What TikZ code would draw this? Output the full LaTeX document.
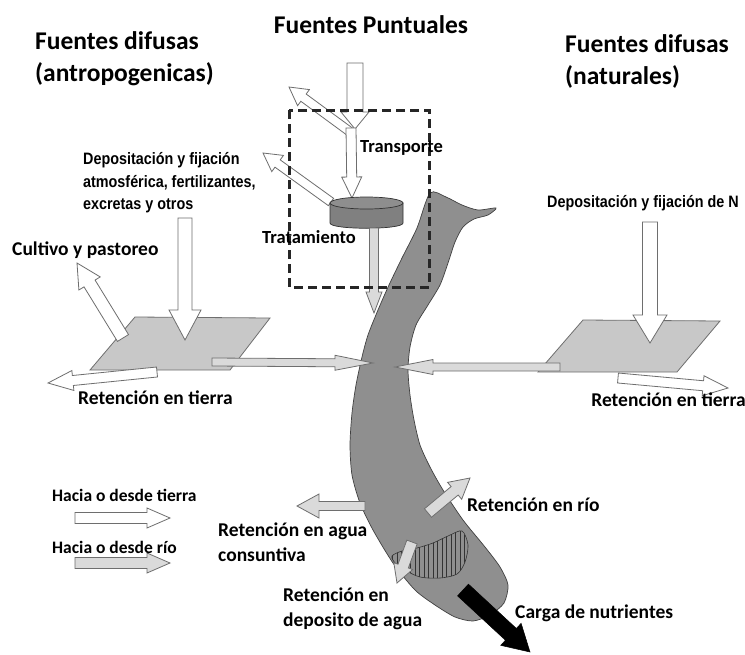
\documentclass[tikz,border=0pt]{standalone}
\usepackage{fontspec}
\setmainfont{Carlito}
\newfontfamily\narrowfont{Liberation Sans}[FakeStretch=0.87]
\usetikzlibrary{calc}
\definecolor{rivergray}{HTML}{8F8F8F}
\definecolor{planegray}{HTML}{C8C8C8}
\definecolor{lightarrow}{HTML}{DADADA}
\definecolor{edgegray}{HTML}{6E6E6E}
\definecolor{cylbody}{HTML}{808080}
\definecolor{cyltop}{HTML}{8E8E8E}
\newcommand\barrow[6][]{%
  \draw[#1] let \p1=(#2), \p2=(#3), \p3=($(#3)!#6pt!(#2)$) in
   ($(\p1)!#4pt!90:(\p2)$) -- ($(\p3)!#4pt!90:(\p2)$) -- ($(\p3)!#5pt!90:(\p2)$)
   -- (\p2) -- ($(\p3)!#5pt!-90:(\p2)$) -- ($(\p3)!#4pt!-90:(\p2)$)
   -- ($(\p1)!#4pt!-90:(\p2)$) -- cycle;}
\tikzset{
  whitearrow/.style={fill=white,draw=edgegray,line width=0.8pt,line join=miter},
  grayarrow/.style={fill=lightarrow,draw=edgegray,line width=0.8pt,line join=miter},
  blackarrow/.style={fill=black,draw=black,line width=0.5pt},
  title/.style={font=\fontsize{25.5}{32}\selectfont\bfseries,inner sep=0pt,align=left},
  lab/.style={font=\fontsize{19.5}{25}\selectfont\bfseries,inner sep=0pt,align=left},
  narrowlab/.style={font=\narrowfont\fontsize{16.5}{22.5}\selectfont\bfseries,inner sep=0pt,align=left},
  plane/.style={fill=planegray,draw=edgegray,line width=0.8pt},
}
\begin{document}
\begin{tikzpicture}[x=1pt,y=-1pt]
\useasboundingbox (0,0) rectangle (745,654);
\fill[white] (0,0) rectangle (745,654);

% titles
\node[title,anchor=center] (fp) at (371,25) {Fuentes Puntuales};
\node[title,anchor=west] (fda) at (35,59) {Fuentes difusas\\(antropogenicas)};
\node[title,anchor=west] (fdn) at (565,61) {Fuentes difusas\\(naturales)};

% planes
\draw[plane] (135,317) -- (270,318) -- (230,370) -- (90,370) -- cycle;
\draw[plane] (583,320) -- (720,321) -- (677,372) -- (538,372) -- cycle;

% river
\draw[fill=rivergray,draw=black!75,line width=0.7pt]
  plot[smooth cycle,tension=0.45] coordinates {
  (430,193) (446,197) (462,205) (478,210) (496,208) (488,215) (474,219) (463,227)
  (455,242) (448,263) (440,285) (428,305) (416,325) (410,347) (408,370) (410,395)
  (414,420) (420,445) (430,467) (443,490) (463,520) (485,547) (500,567) (508,585)
  (504,603) (490,615) (473,621) (455,617) (435,605) (415,590) (393,563) (373,530)
  (360,503) (352,475) (350,445) (352,413) (356,385) (362,357) (368,335) (378,310)
  (389,285) (402,258) (417,228)};

% hatched zone
\begin{scope}
\clip plot[smooth cycle,tension=0.5] coordinates {(392,556) (402,551) (417,548) (433,543)
  (448,536) (462,531) (468,545) (465,562) (457,574) (440,578) (420,577) (405,570) (395,563)};
\foreach \x in {388,392.5,...,472} \draw[black!80,line width=0.5pt] (\x,525) -- (\x,585);
\end{scope}
\draw[black!80,line width=0.6pt] plot[smooth cycle,tension=0.5] coordinates {(392,556) (402,551) (417,548) (433,543)
  (448,536) (462,531) (468,545) (465,562) (457,574) (440,578) (420,577) (405,570) (395,563)};

% coordinates for arrows
\coordinate (tA1) at (355,63);  \coordinate (tA2) at (355,129);
\coordinate (tB1) at (351,128); \coordinate (tB2) at (352,198);
\coordinate (d1s) at (353,134); \coordinate (d1e) at (289,87);
\coordinate (d2s) at (331,202); \coordinate (d2e) at (263,153);
\coordinate (c1) at (374,228);  \coordinate (c2) at (374,313);
\coordinate (ld1) at (185,218); \coordinate (ld2) at (185,340);
\coordinate (cu1) at (123,338); \coordinate (cu2) at (77,263);
\coordinate (lr1) at (157,372); \coordinate (lr2) at (48,383);
\coordinate (lh1) at (212,362); \coordinate (lh2) at (373,363);
\coordinate (rd1) at (650,222); \coordinate (rd2) at (650,343);
\coordinate (rh1) at (560,367); \coordinate (rh2) at (395,367);
\coordinate (rr1) at (618,378); \coordinate (rr2) at (728,388);
\coordinate (cs1) at (365,506); \coordinate (cs2) at (297,506);
\coordinate (ri1) at (428,513); \coordinate (ri2) at (470,478);
\coordinate (dp1) at (412,542); \coordinate (dp2) at (397,583);
\coordinate (bk1) at (463,590); \coordinate (bk2) at (530,652);
\coordinate (lg1) at (75,518);  \coordinate (lg2) at (170,518);
\coordinate (lg3) at (75,563);  \coordinate (lg4) at (170,563);

% point source chain
\barrow[whitearrow]{d1s}{d1e}{4.5}{10}{18}
\barrow[whitearrow]{tA1}{tA2}{8}{14}{17}
\barrow[whitearrow]{tB1}{tB2}{5}{10}{21}
\barrow[whitearrow]{d2s}{d2e}{4.5}{10}{18}

% cylinder
\draw[fill=cylbody,draw=black!80,line width=0.7pt] (330,203) -- (330,223) .. controls (330,230) and (403,230) .. (403,223) -- (403,203) -- cycle;
\draw[fill=cyltop,draw=black!80,line width=0.7pt] (366.5,203) ellipse [x radius=36.5pt, y radius=6pt];

\barrow[grayarrow]{c1}{c2}{4.5}{8}{21}

% dashed box
\draw[black!85,line width=3pt,dash pattern=on 9pt off 5pt] (289,110) rectangle (429,287);

% land arrows
\barrow[whitearrow]{ld1}{ld2}{7}{16}{30}
\barrow[whitearrow]{cu1}{cu2}{6.5}{12.5}{24}
\barrow[whitearrow]{lr1}{lr2}{5}{10}{25}
\barrow[grayarrow]{lh1}{lh2}{4}{7.5}{38}
\barrow[whitearrow]{rd1}{rd2}{7.5}{17}{28}
\barrow[grayarrow]{rh1}{rh2}{4}{7.5}{38}
\barrow[whitearrow]{rr1}{rr2}{5}{10}{25}

% river arrows
\barrow[grayarrow]{cs1}{cs2}{4.5}{12}{22}
\barrow[grayarrow]{ri1}{ri2}{5.5}{11}{20}
\barrow[grayarrow]{dp1}{dp2}{5.5}{10}{18}
\barrow[blackarrow]{bk1}{bk2}{8}{15}{26}

% legend
\barrow[whitearrow]{lg1}{lg2}{5.5}{10}{23}
\barrow[grayarrow]{lg3}{lg4}{5.5}{10}{23}

% labels
\node[narrowlab,anchor=west] (dep) at (83,183) {Depositación y fijación\\atmosférica, fertilizantes,\\excretas y otros};
\node[narrowlab,anchor=west] (depn) at (547,203) {Depositación y fijación de N};
\node[lab,anchor=west] (cult) at (12,250) {Cultivo y pastoreo};
\node[lab,anchor=west] (rtl) at (78,398) {Retención en tierra};
\node[lab,anchor=east] (rtr) at (746,400) {Retención en tierra};
\node[lab,anchor=west,font=\fontsize{18.5}{22}\selectfont\bfseries] (trans) at (360,148) {Transporte};
\node[lab,anchor=west,font=\fontsize{18.5}{22}\selectfont\bfseries] (trat) at (262,237) {Tratamiento};
\node[lab,anchor=west] (rrio) at (467,505) {Retención en río};
\node[lab,anchor=west] (ragua) at (218,542) {Retención en agua\\consuntiva};
\node[lab,anchor=west] (rdep) at (283,609) {Retención en\\deposito de agua};
\node[lab,anchor=west] (carga) at (515,613) {Carga de nutrientes};
\node[lab,anchor=west,font=\fontsize{17.5}{22}\selectfont\bfseries] (lgt) at (52,495) {Hacia o desde tierra};
\node[lab,anchor=west,font=\fontsize{17.5}{22}\selectfont\bfseries] (lgr) at (52,547) {Hacia o desde río};
\end{tikzpicture}
\end{document}
